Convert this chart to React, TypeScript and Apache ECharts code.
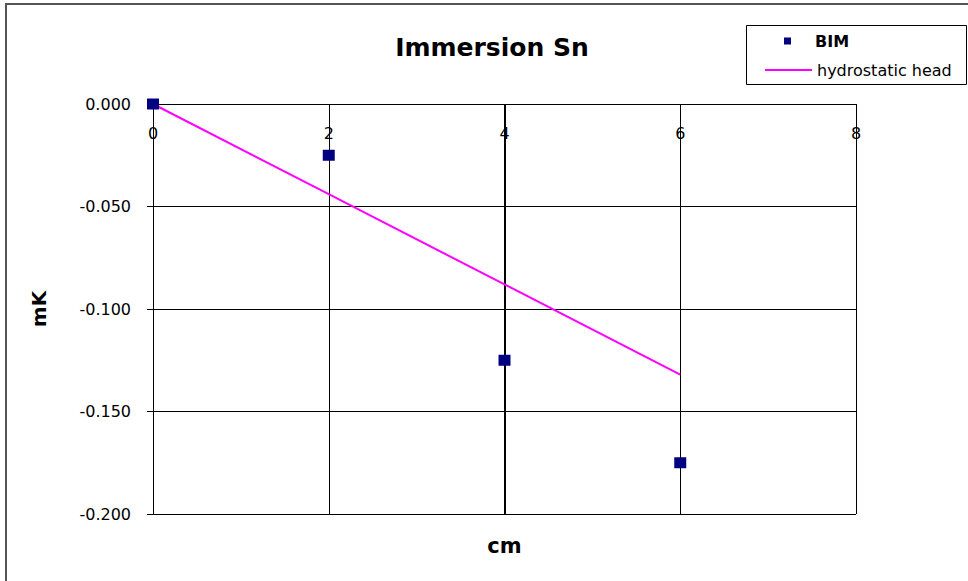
import React, { useEffect, useRef } from "react";
import * as echarts from "echarts";

const bimX = [0, 2, 4, 6];
const bimY = [0, -0.025, -0.125, -0.175];
const headX = [0, 2, 4, 6];
const headY = [0, -0.044, -0.088, -0.132];
const xTicks = { min: 0, max: 8, interval: 2 };
const yTicks = { min: -0.2, max: 0, interval: 0.05 };

const FONT = "DejaVu Sans";

export default function App() {
  const ref = useRef<HTMLDivElement>(null);
  useEffect(() => {
    if (!ref.current) return;
    const chart = echarts.init(ref.current, null, { renderer: "svg" });
    chart.setOption({
      animation: false,
      backgroundColor: "#ffffff",
      textStyle: { fontFamily: FONT },
      title: {
        text: "Immersion Sn",
        left: 487,
        top: 27,
        textAlign: "center",
        textStyle: { fontFamily: FONT, fontSize: 25, fontWeight: "bold", color: "#000", lineHeight: 30 },
      },
      legend: [
        {
          data: [{ name: "BIM", icon: "rect" }],
          left: 784,
          top: 32,
          padding: 0,
          itemWidth: 7,
          itemHeight: 7,
          textStyle: { fontFamily: FONT, fontSize: 16, fontWeight: "bold", color: "#000", lineHeight: 18, padding: [0, 0, 0, 19] },
        },
        {
          data: [{ name: "hydrostatic head", icon: "rect" }],
          left: 765,
          top: 61,
          padding: 0,
          itemWidth: 47,
          itemHeight: 2,
          textStyle: { fontFamily: FONT, fontSize: 16, color: "#000", lineHeight: 18 },
        },
      ],
      graphic: [
        {
          type: "rect",
          shape: { x: 6, y: 4, width: 1100, height: 1000 },
          style: { fill: "none", stroke: "#555", lineWidth: 2 },
          z: -1,
          silent: true,
        },
        {
          type: "rect",
          shape: { x: 746.5, y: 25.5, width: 220, height: 59 },
          style: { fill: "none", stroke: "#000", lineWidth: 1 },
          silent: true,
        },
      ],
      grid: { left: 153, top: 104, width: 703, height: 410, outerBoundsMode: "none", containLabel: false },
      xAxis: [
        {
          type: "value",
          min: xTicks.min,
          max: xTicks.max,
          interval: xTicks.interval,
          position: "top",
          axisLine: { onZero: false, lineStyle: { color: "#000", width: 1 } },
          axisTick: { show: false },
          axisLabel: { inside: true, margin: 21, fontFamily: FONT, fontSize: 16, color: "#000" },
          splitLine: { show: true, lineStyle: { color: "#000", width: 1 } },
        },
        {
          type: "value",
          min: xTicks.min,
          max: xTicks.max,
          interval: xTicks.interval,
          position: "bottom",
          axisLine: { show: false, onZero: false },
          axisTick: { show: false },
          axisLabel: { show: false },
          splitLine: { show: false },
          name: "cm",
          nameLocation: "middle",
          nameGap: 21,
          nameTextStyle: { fontFamily: FONT, fontSize: 21, fontWeight: "bold", color: "#000" },
        },
      ],
      yAxis: {
        type: "value",
        min: yTicks.min,
        max: yTicks.max,
        interval: yTicks.interval,
        axisLine: { show: true, onZero: false, lineStyle: { color: "#000", width: 1 } },
        axisTick: { show: true, length: 6, lineStyle: { color: "#000" } },
        axisLabel: {
          margin: 22,
          fontFamily: FONT,
          fontSize: 16,
          color: "#000",
          formatter: (v: number) => v.toFixed(3),
        },
        splitLine: { show: true, lineStyle: { color: "#000", width: 1 } },
        name: "mK",
        nameLocation: "middle",
        nameRotate: 90,
        nameGap: 104,
        nameTextStyle: { fontFamily: FONT, fontSize: 20, fontWeight: "bold", color: "#000" },
      },
      series: [
        {
          name: "hydrostatic head",
          type: "line",
          data: headX.map((x, i) => [x, headY[i]]),
          showSymbol: false,
          symbol: "none",
          lineStyle: { color: "#ff00ff", width: 2 },
          itemStyle: { color: "#ff00ff" },
          z: 3,
        },
        {
          name: "BIM",
          type: "scatter",
          data: bimX.map((x, i) => [x, bimY[i]]),
          symbol: "rect",
          symbolSize: [12, 11],
          clip: false,
          itemStyle: { color: "#000080", opacity: 1 },
          z: 4,
          markLine: {
            silent: true,
            symbol: "none",
            label: { show: false },
            lineStyle: { color: "#000", width: 2, type: "solid" },
            data: [{ xAxis: 4 }],
            z: 2,
          },
        },
      ],
    });
    return () => chart.dispose();
  }, []);
  return (
    <div
      ref={ref}
      style={{ position: "fixed", left: 0, top: 0, width: 968, height: 581 }}
    />
  );
}
